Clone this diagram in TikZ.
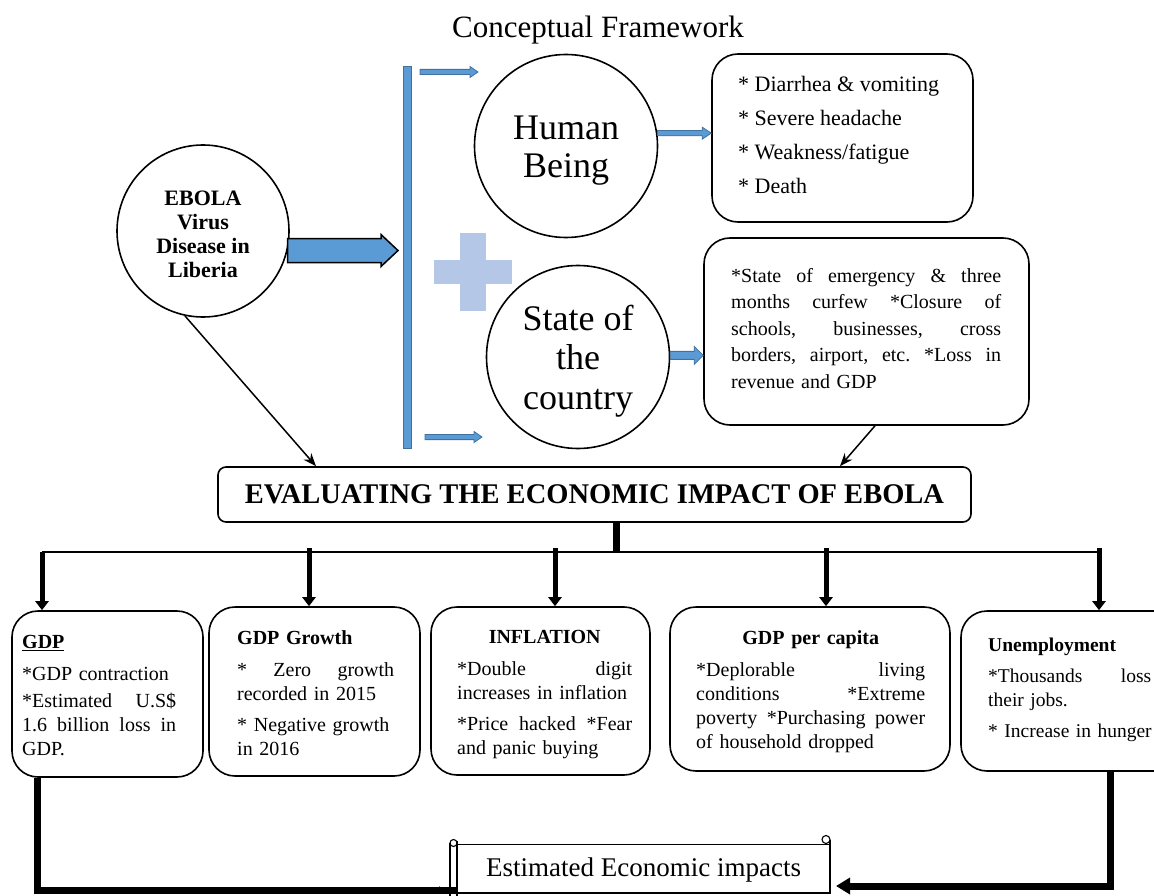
\documentclass[tikz,border=0pt]{standalone}
\usepackage{fontspec}
\setmainfont{Liberation Serif}
\usetikzlibrary{arrows.meta,calc}
\definecolor{obl}{HTML}{5B9BD5}
\definecolor{obd}{HTML}{41719C}
\definecolor{plusc}{HTML}{B4C7E7}
\newcommand{\jl}[2]{\leavevmode\hbox to #1{#2}}
\newcommand{\myblockarrow}[6]{%
  \path[#6] let \p1=(#1), \p2=(#2) in
   (\x1,\y1+#3) -- (\x2-#5,\y1+#3) -- (\x2-#5,\y1+#4) -- (\x2,\y1)
   -- (\x2-#5,\y1-#4) -- (\x2-#5,\y1-#3) -- (\x1,\y1-#3) -- cycle;}
\begin{document}
\begin{tikzpicture}[x=1pt,y=-1pt,
  circ/.style={circle,draw,line width=1.6pt,inner sep=0pt,align=center},
  rbox/.style={draw,line width=1.6pt,rounded corners=26pt,inner sep=0pt},
  body/.style={font=\fontsize{20}{24}\selectfont,align=left,inner sep=0pt,anchor=north west},
  downarr/.style={line width=5pt,-{Triangle[width=13pt,length=9pt]}},
  thin/.style={line width=1.5pt,-{Stealth[length=13pt,width=10pt]}},
  thick/.style={line width=7pt},
  bluesmall/.style={fill=obl,draw=obd,line width=0.8pt}]
\useasboundingbox (0,0) rectangle (1154,896);
\clip (0,0) rectangle (1154,896);

% title
\node[font=\fontsize{31}{34}\selectfont] (title) at (598,30) {Conceptual Framework};

% left circle
\node[circ,minimum size=172pt] (eb) at (203,231) {};
\node[align=center,inner sep=0pt,font=\bfseries\fontsize{22}{24}\selectfont] (ebt) at (203,234)
  {EBOLA\\Virus\\Disease in\\Liberia};

% vertical bar
\path[fill=obl,draw=obd,line width=1pt] (403,67) rectangle (411,448);
\coordinate (barL) at (398,250);
\myblockarrow{eb.-13.6}{barL}{12pt}{16pt}{17pt}{fill=obl,draw=black,line width=1.5pt}

% small arrows by the bar
\coordinate (ta1) at (420,72);
\coordinate (ta2) at (478,72);
\myblockarrow{ta1}{ta2}{2.6pt}{5.5pt}{8pt}{bluesmall}
\coordinate (ba1) at (425,437);
\coordinate (ba2) at (482,437);
\myblockarrow{ba1}{ba2}{2.6pt}{5.5pt}{8pt}{bluesmall}

% plus sign
\fill[plusc] (460,233) rectangle (486,311);
\fill[plusc] (434,260) rectangle (512,284);

% two circles
\node[circ,minimum size=183pt] (hb) at (566,146) {};
\node[align=center,inner sep=0pt,font=\fontsize{36}{38}\selectfont] (hbt) at (566,151) {Human\\Being};
\node[circ,minimum size=183pt] (sc) at (578,357) {};
\node[align=center,inner sep=0pt,font=\fontsize{36}{39.5}\selectfont] (sct) at (578,361) {State of\\the\\country};

% symptoms box
\node[rbox,minimum width=261pt,minimum height=168pt] (sym) at (842.5,138) {};
\node[inner sep=0pt,anchor=north west,align=left,font=\fontsize{22}{34}\selectfont] (symt) at (738,76)
  {* Diarrhea \& vomiting\\* Severe headache\\* Weakness/fatigue\\* Death};
\coordinate (hbe) at (hb.8);
\myblockarrow{hbe}{sym.west |- hbe}{2.6pt}{6pt}{9pt}{bluesmall}

% state box
\node[rbox,minimum width=325pt,minimum height=187pt] (st) at (866.5,331.5) {};
\node[body,text width=270pt,font=\fontsize{20}{26.5}\selectfont] (stt) at (731,268)
  {\jl{270pt}{*State\hfill of\hfill emergency\hfill \&\hfill three}\\
   \jl{270pt}{months\hfill curfew\hfill *Closure\hfill of}\\
   \jl{270pt}{schools,\hfill businesses,\hfill cross}\\
   \jl{270pt}{borders,\hfill airport,\hfill etc.\hfill *Loss\hfill in}\\
   revenue and GDP};
\coordinate (sce) at (sc.1);
\myblockarrow{sce}{st.west |- sce}{4pt}{9pt}{9pt}{bluesmall}

% evaluating box
\node[draw,line width=1.6pt,rounded corners=8pt,minimum width=753pt,minimum height=55pt,
  font=\bfseries\fontsize{28.5}{30}\selectfont] (ev) at (594.5,494.5)
  {EVALUATING THE ECONOMIC IMPACT OF EBOLA};
\draw[thin] (eb.258) -- (ev.north -| 316,0);
\draw[thin] (st.south -| 875,0) -- (ev.north -| 840,0);

% distribution
\coordinate (hub) at (616,552);
\draw[line width=7pt] (ev.south -| hub) -- (hub);
\coordinate (h1) at (42,552);
\coordinate (h2) at (309,552);
\coordinate (h3) at (555,552);
\coordinate (h4) at (826,552);
\coordinate (h5) at (1099,552);
\draw[line width=1.2pt] (h1) -- (h5);

% bottom boxes
\node[rbox,minimum width=191pt,minimum height=166pt] (b1) at (107.5,694) {};
\node[rbox,minimum width=211pt,minimum height=169pt] (b2) at (314.5,691.5) {};
\node[rbox,minimum width=219pt,minimum height=168pt] (b3) at (540.5,691) {};
\node[rbox,minimum width=280pt,minimum height=164pt] (b4) at (810,689) {};
\node[rbox,minimum width=240pt,minimum height=160pt] (b5) at (1081,691) {};

\draw[downarr] (h1) -- (h1 |- b1.north);
\draw[downarr] ($(h2)+(0,-4)$) -- (h2 |- b2.north);
\draw[downarr] ($(h3)+(0,-4)$) -- (h3 |- b3.north);
\draw[downarr] ($(h4)+(0,-4)$) -- (h4 |- b4.north);
\draw[downarr] ($(h5)+(0,-4)$) -- (h5 |- b5.north);

\node[body,text width=154pt] (t1) at (22,635)
  {\textbf{\underline{GDP}}\\[8pt]*GDP contraction\\[3pt]
   \jl{154pt}{*Estimated\hfill U.S\$}\\
   \jl{154pt}{1.6\hfill billion\hfill loss\hfill in}\\GDP.};
\node[body,text width=157pt] (t2) at (237,630)
  {\textbf{GDP Growth}\\[8pt]\jl{157pt}{*\hfill Zero\hfill growth}\\recorded in 2015\\[7pt]* Negative growth\\in 2016};
\node[body,text width=175pt] (t3) at (457,630)
  {\jl{175pt}{\hfil\textbf{INFLATION}\hfil}\\[8pt]
   \jl{175pt}{*Double\hfill digit}\\increases in inflation\\[7pt]
   \jl{175pt}{*Price\hfill hacked\hfill *Fear}\\and panic buying};
\node[body,text width=229pt] (t4) at (696,630)
  {\jl{229pt}{\hfil\textbf{GDP per capita}\hfil}\\[8pt]
   \jl{229pt}{*Deplorable\hfill living}\\
   \jl{229pt}{conditions\hfill *Extreme}\\
   \jl{229pt}{poverty\hfill *Purchasing\hfill power}\\of household dropped};
\node[body,text width=164pt,font=\fontsize{19.5}{24}\selectfont] (t5) at (988,638)
  {\textbf{Unemployment}\\[7pt]\jl{163pt}{*Thousands\hfill loss}\\their jobs.\\[7pt]* Increase in hunger};

% estimated impacts scroll
\node[minimum width=373pt,minimum height=50pt,inner sep=0pt,font=\fontsize{27}{30}\selectfont] (est) at (643.5,870) {Estimated Economic impacts};
\draw[line width=1.3pt] (est.north west) -- (est.north east |- est.north) ;
\draw[line width=1.3pt] (830,840) -- (830,893) -- (457,893);
\draw[line width=1.3pt] (457,841) -- (457,900);
\draw[line width=1.3pt] (450,843) -- (450,900);
\draw[line width=1.1pt] (453.5,843) circle (3.5pt);
\draw[line width=1.1pt] (826,839.5) circle (4pt);

% bottom connectors
\coordinate (lc) at (37,890);
\draw[thick] (b1.south -| lc) -- (lc) -- (est.west |- lc);
\draw[-{Triangle[width=7pt,length=8pt]},line width=1pt] ($(est.west |- lc)+(-12,0)$) -- (447,890);
\coordinate (rc) at (1110,886);
\draw[thick] (b5.south -| rc) -- (rc) -- (850,886);
\draw[-{Triangle[width=16pt,length=14pt]},line width=7pt] (852,886) -- (836,886);
\end{tikzpicture}
\end{document}
